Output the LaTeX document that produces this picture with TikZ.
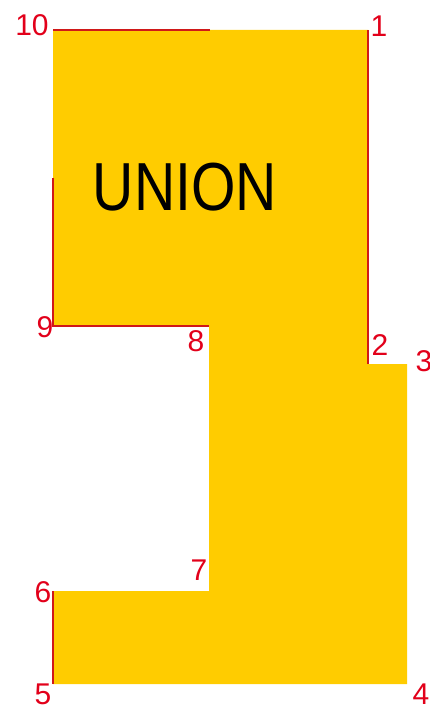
\documentclass[tikz,border=0pt]{standalone}
\usepackage{fontspec}
\setmainfont{Liberation Sans}
\definecolor{gold}{HTML}{FFCC00}
\definecolor{numred}{HTML}{E2001A}
\definecolor{edgered}{HTML}{D01818}

\begin{document}
\begin{tikzpicture}[x=1pt,y=-1pt,font=\fontsize{30}{30}\selectfont]
\tikzstyle{num}=[text=numred,inner sep=0pt]
\tikzstyle{edge}=[draw=edgered,line width=1.5pt]
\useasboundingbox (0,0) rectangle (430,708);
% corners of the outline
\coordinate (p1) at (368,30); \coordinate (p2) at (368,364); \coordinate (p3) at (407,364);
\coordinate (p4) at (407,684); \coordinate (p5) at (53,684); \coordinate (p6) at (53,591);
\coordinate (p7) at (209,591); \coordinate (p8) at (209,326); \coordinate (p9) at (53,326);
\coordinate (p10) at (53,30);
\coordinate (top) at (210,30); \coordinate (left) at (53,178);
\fill[gold] (p1) -- (p2) -- (p3) -- (p4) -- (p5) -- (p6) -- (p7) -- (p8) -- (p9) -- (p10) -- cycle;
\draw[edge] (p10) -- (top); \draw[edge] (p1) -- (p2); \draw[edge] (left) -- (p9) -- (p8); \draw[edge] (p5) -- (p6);
\node[num] (n1) at (379,26) {1}; \node[num] (n2) at (380,345) {2}; \node[num] (n3) at (424,361) {3};
\node[num] (n4) at (421,694) {4}; \node[num] (n5) at (43,694) {5}; \node[num] (n6) at (43,592) {6};
\node[num] (n7) at (199,570) {7}; \node[num] (n8) at (196,341) {8}; \node[num] (n9) at (45,327) {9};
\node[num] (n10) at (32,25) {10};
\node[font=\fontsize{68}{68}\selectfont,xscale=0.84,inner sep=0pt] (union) at (185,187) {UNION};
\end{tikzpicture}
\end{document}
